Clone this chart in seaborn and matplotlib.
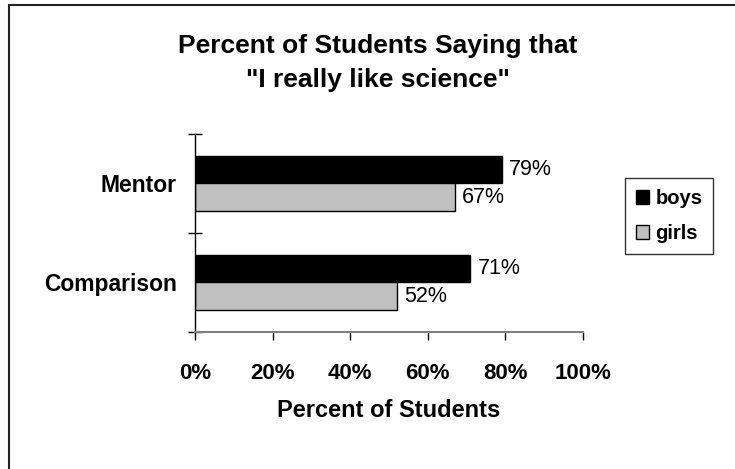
import matplotlib
matplotlib.use("Agg")
import matplotlib.pyplot as plt
from matplotlib.patches import Rectangle
import seaborn as sns
import pandas as pd

groups = ["Mentor", "Comparison"]
boys = [79, 71]
girls = [67, 52]
x_ticks = [0, 20, 40, 60, 80, 100]

df = pd.DataFrame({
    "group": groups * 2,
    "pct": boys + girls,
    "gender": ["boys"] * len(groups) + ["girls"] * len(groups),
})

sns.set_style("white")
plt.rcParams["font.family"] = ["Liberation Sans", "DejaVu Sans"]
plt.rcParams.update({"text.color": "black", "axes.labelcolor": "black",
                     "xtick.color": "black", "ytick.color": "black"})

fig = plt.figure(figsize=(7.35, 4.69), dpi=100)
ax = fig.add_axes([195 / 735, 1 - 332 / 469, 388 / 735, 198 / 469])

sns.barplot(data=df, y="group", x="pct", hue="gender", orient="h",
            palette={"boys": "black", "girls": "#c0c0c0"}, saturation=1,
            edgecolor="black", linewidth=1, width=0.56, gap=0, ax=ax)

for cont in ax.containers:
    ax.bar_label(cont, labels=[f"{v:.0f}%" for v in cont.datavalues],
                 padding=5, fontsize=15.5, color="black")

ax.set_xlim(0, 100)
ax.set_ylim(1.5, -0.5)
ax.set_xticks(x_ticks)
ax.set_xticklabels([f"{v}%" for v in x_ticks], fontsize=16, fontweight="bold")
ax.set_yticks(range(len(groups)))
ax.set_yticklabels(groups, fontsize=16.5, fontweight="bold")
ax.set_yticks([-0.5, 0.5, 1.5], minor=True)
ax.tick_params(axis="y", which="major", length=0, pad=13)
ax.tick_params(axis="y", which="minor", direction="inout", length=10, width=1, color="black", left=True)
ax.tick_params(axis="x", direction="out", length=6, width=1, color="black", pad=16, bottom=True)
ax.set_xlabel("Percent of Students", fontsize=17, fontweight="bold", labelpad=11)
ax.set_ylabel("")

for s in ["top", "right"]:
    ax.spines[s].set_visible(False)
ax.spines["left"].set_color("black")
ax.spines["left"].set_linewidth(1)
ax.spines["bottom"].set_color("#808080")
ax.spines["bottom"].set_linewidth(1.5)

fig.text(378 / 735, 1 - 53 / 469, "Percent of Students Saying that", ha="center", va="baseline",
         fontsize=19, fontweight="bold")
fig.text(378 / 735, 1 - 87 / 469, "\"I really like science\"", ha="center", va="baseline",
         fontsize=19, fontweight="bold")

leg = ax.legend(loc="upper left", bbox_to_anchor=(625 / 735, 1 - 178 / 469),
                bbox_transform=fig.transFigure, frameon=True, fancybox=False,
                edgecolor="black", prop={"size": 14.5, "weight": "bold"},
                handlelength=0.65, handleheight=0.65, handletextpad=0.3,
                labelspacing=0.8, borderpad=0.55, borderaxespad=0, title=None)
leg.get_frame().set_linewidth(1)

fig.add_artist(Rectangle((9 / 735, -0.05), 1.1, 1 - 5 / 469 + 0.05, transform=fig.transFigure,
                         fill=False, edgecolor="#222222", linewidth=1.5))

fig.savefig("out.png", dpi=100, facecolor="white")
